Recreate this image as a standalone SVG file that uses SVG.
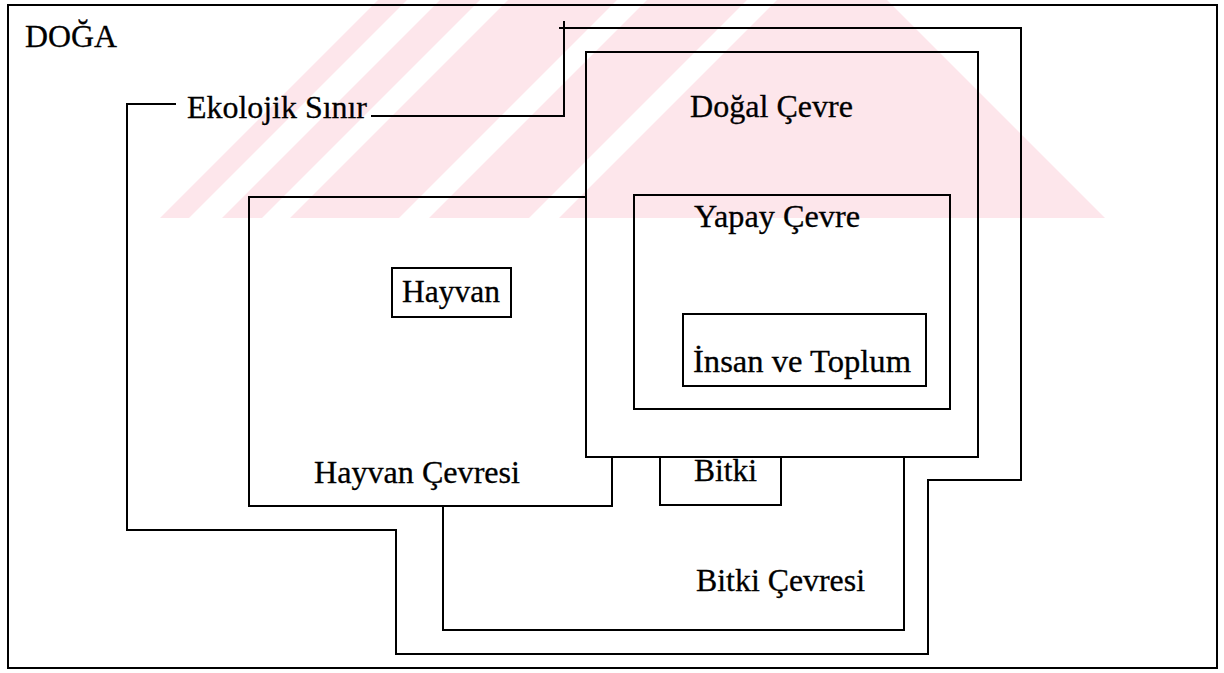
<svg xmlns="http://www.w3.org/2000/svg" width="1224" height="673" viewBox="0 0 1224 673">
<style>
.ln{fill:none;stroke:#000;stroke-width:2;stroke-linecap:square}
.tx{font-family:"Liberation Serif","Times New Roman",serif;font-size:32px;fill:#000;stroke:#000;stroke-width:0.3}
.wm{fill:#fde6eb}
.ws{fill:#fff}
</style>
<rect x="0" y="0" width="1224" height="673" fill="#fff"/>
<g id="watermark">
<polygon class="wm" points="160,218 378,0 887,0 1105,218"/>
<polygon class="ws" points="407,0 440,0 222,218 189,218"/>
<polygon class="ws" points="480,0 508,0 290,218 262,218"/>
<polygon class="ws" points="617,0 647,0 429,218 399,218"/>
<polygon class="ws" points="747,0 777,0 559,218 529,218"/>
</g>
<g id="doga">
<rect class="ln" x="8" y="5" width="1209" height="663"/>
<text class="tx" x="25" y="47" textLength="92" lengthAdjust="spacingAndGlyphs">DOĞA</text>
</g>
<g id="connectors">
<path id="ekolojik-sinir" class="ln" d="M372,116 H564 V22 M560,28 H1021 V480 H928 V654 H396 V530 H127 V104 H175"/>
</g>
<g id="ekolojik-sinir-label">
<text class="tx" x="187" y="118" textLength="180" lengthAdjust="spacingAndGlyphs">Ekolojik Sınır</text>
</g>
<g id="bitki-cevresi">
<path class="ln" d="M443,506 V630 H904 V457"/>
<text class="tx" x="696" y="591" textLength="169" lengthAdjust="spacingAndGlyphs">Bitki Çevresi</text>
</g>
<g id="hayvan-cevresi">
<path class="ln" d="M586,197 H249 V506 H612 V457"/>
<text class="tx" x="314" y="483" textLength="206" lengthAdjust="spacingAndGlyphs">Hayvan Çevresi</text>
</g>
<g id="hayvan">
<rect class="ln" x="392" y="268" width="119" height="49"/>
<text class="tx" x="402" y="302" textLength="98" lengthAdjust="spacingAndGlyphs">Hayvan</text>
</g>
<g id="dogal-cevre">
<rect class="ln" x="586" y="52" width="392" height="405"/>
<text class="tx" x="690" y="117" textLength="163" lengthAdjust="spacingAndGlyphs">Doğal Çevre</text>
</g>
<g id="bitki">
<path class="ln" d="M660,457 V505 H781 V457"/>
<text class="tx" x="694" y="481" textLength="63" lengthAdjust="spacingAndGlyphs">Bitki</text>
</g>
<g id="yapay-cevre">
<rect class="ln" x="634" y="195" width="316" height="214"/>
<text class="tx" x="694" y="227" textLength="166" lengthAdjust="spacingAndGlyphs">Yapay Çevre</text>
</g>
<g id="insan-ve-toplum">
<rect class="ln" x="683" y="314" width="243" height="72"/>
<text class="tx" x="693" y="372" textLength="218" lengthAdjust="spacingAndGlyphs">İnsan ve Toplum</text>
</g>
</svg>
